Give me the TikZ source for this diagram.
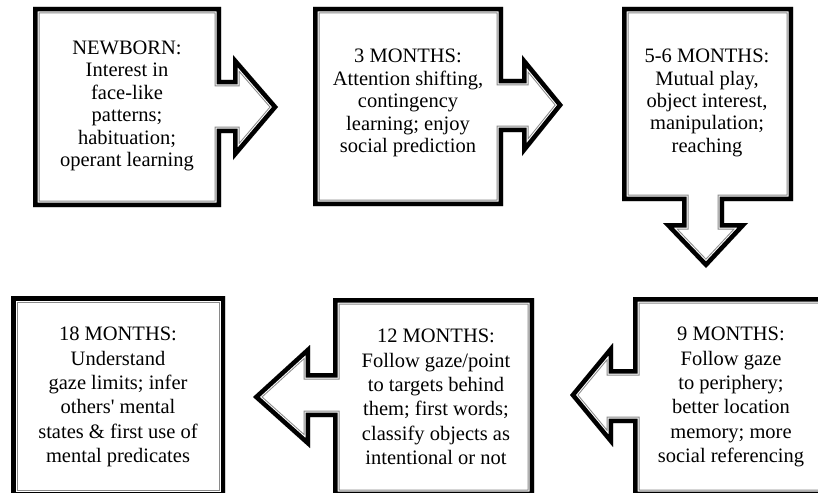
\documentclass[tikz,border=0pt]{standalone}
\usepackage{fontspec}
\setmainfont{Liberation Serif}
\usepackage{tikz}
\definecolor{frameGray}{HTML}{8A8A8A}
% thick outer band, thin inner line, drawn inside the outline
\newcommand{\stageframe}[1]{%
  \begin{scope}
    \clip #1;
    \draw[line width=13pt, color=frameGray] #1;
    \draw[line width=11pt, color=white] #1;
    \draw[line width=9pt, color=black] #1;
  \end{scope}}

\begin{document}
\begin{tikzpicture}[x=1pt,y=-1pt,
  stagetop/.style={align=center, font=\fontsize{20.5}{22.4}\selectfont},
  stagelow/.style={align=center, font=\fontsize{20.5}{24.3}\selectfont}]
  \clip (0,0) rectangle (818,492);
  \fill[white] (0,0) rectangle (818,492);

  % top row, pointing right and down
  \stageframe{(33,7) -- (221,7) -- (221,80) -- (233,80) -- (233,55) -- (278,107)
    -- (233,160) -- (233,133) -- (221,133) -- (221,207) -- (33,207) -- cycle}
  \node[stagetop] (newborn) at (127,106)
    {NEWBORN:\\Interest in\\face-like\\patterns;\\habituation;\\operant learning};

  \stageframe{(313,7) -- (503,7) -- (503,79) -- (522,79) -- (522,55) -- (563,105)
    -- (522,156) -- (522,132) -- (503,132) -- (503,206) -- (313,206) -- cycle}
  \node[stagetop] (three) at (408,103)
    {3 MONTHS:\\Attention shifting,\\contingency\\learning; enjoy\\social prediction};

  \stageframe{(622,7) -- (793,7) -- (793,201) -- (724,201) -- (724,223) -- (748,223)
    -- (706,268) -- (663,223) -- (682,223) -- (682,201) -- (622,201) -- cycle}
  \node[stagetop] (fivesix) at (707,103)
    {5-6 MONTHS:\\Mutual play,\\object interest,\\manipulation;\\reaching};

  % bottom row, pointing left
  \stageframe{(633,297) -- (840,297) -- (840,496) -- (633,496) -- (633,423) -- (613,423)
    -- (613,447) -- (570,395) -- (613,343) -- (613,369) -- (633,369) -- cycle}
  \node[stagelow] (nine) at (731,397)
    {9 MONTHS:\\Follow gaze\\to periphery;\\better location\\memory; more\\social referencing};

  \stageframe{(333,298) -- (534,298) -- (534,496) -- (333,496) -- (333,417) -- (310,417)
    -- (310,448) -- (253,397) -- (310,345) -- (310,373) -- (333,373) -- cycle}
  \node[stagelow] (twelve) at (436,397)
    {12 MONTHS:\\Follow gaze/point\\to targets behind\\them; first words;\\classify objects as\\intentional or not};

  \stageframe{(11,296) -- (225,296) -- (225,496) -- (11,496) -- cycle}
  \node[stagelow] (eighteen) at (118,397)
    {18 MONTHS:\\Understand\\gaze limits; infer\\others\textquotesingle{} mental\\states \& first use of\\mental predicates};
\end{tikzpicture}
\end{document}
